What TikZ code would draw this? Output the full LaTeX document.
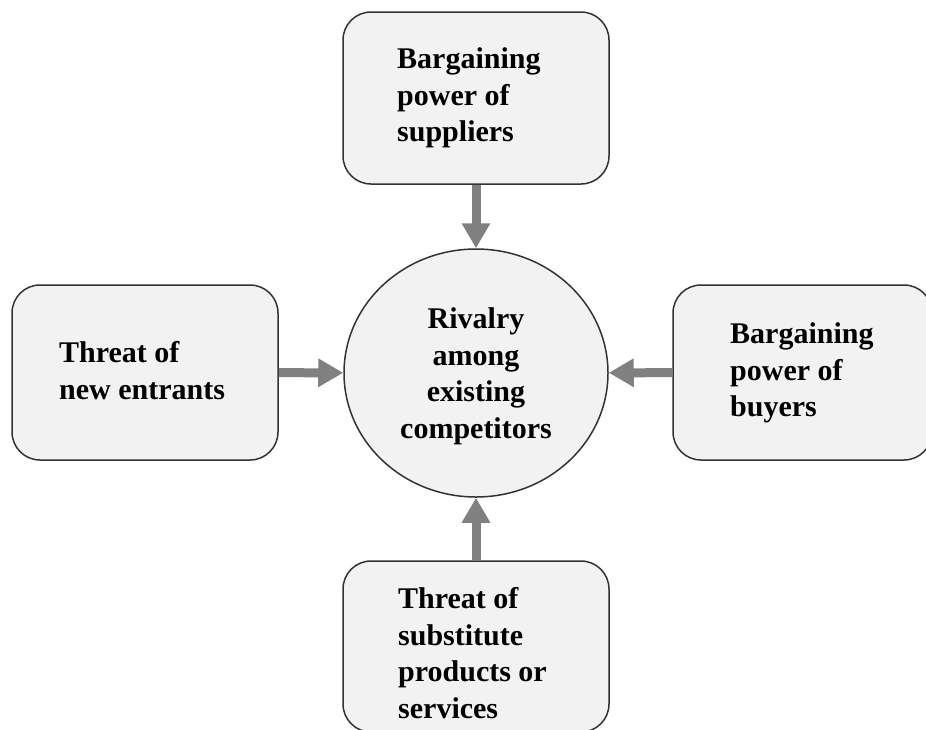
\documentclass[tikz,border=0pt]{standalone}
\usepackage{fontspec}
\setmainfont{Liberation Serif}
\usetikzlibrary{arrows.meta,shapes.geometric}
\definecolor{boxfill}{HTML}{F2F2F2}
\definecolor{boxline}{HTML}{333333}
\definecolor{arrowgray}{HTML}{808080}
\tikzset{
  forcebox/.style={draw=boxline, line width=1.5pt, fill=boxfill, rounded corners=28pt, inner sep=0pt},
  rivalry/.style={draw=boxline, line width=1.5pt, fill=boxfill, ellipse, inner sep=0pt},
  forcearrow/.style={draw=arrowgray, line width=9pt, -{Triangle[width=27pt,length=25pt]}},
  lbl/.style={font=\bfseries\fontsize{30}{36.5}\selectfont, align=left, inner sep=0pt, anchor=north west},
  clbl/.style={font=\bfseries\fontsize{30}{36.5}\selectfont, align=center, inner sep=0pt, anchor=north}
}
\begin{document}
\begin{tikzpicture}[x=1pt,y=-1pt]
\clip (0,0) rectangle (926,729);
\fill[white] (0,0) rectangle (926,729);
% shapes
\node[forcebox, minimum width=266pt, minimum height=172pt] (sup) at (476,98) {};
\node[forcebox, minimum width=266pt, minimum height=175pt] (ent) at (145,372.5) {};
\node[forcebox, minimum width=259pt, minimum height=175pt] (buy) at (802.5,372.5) {};
\node[forcebox, minimum width=266pt, minimum height=171pt] (sub) at (476,646.5) {};
\node[rivalry, minimum width=264pt, minimum height=248pt] (riv) at (476,373) {};
% texts
\node[lbl] (tsup) at (397,47.5) {Bargaining\\power of\\suppliers};
\node[lbl] (tent) at (59,341.5) {Threat of\\new entrants};
\node[lbl] (tbuy) at (730,322.5) {Bargaining\\power of\\buyers};
\node[lbl] (tsub) at (398,587.5) {Threat of\\substitute\\products or\\services};
\node[clbl] (triv) at (476,307.5) {Rivalry\\among\\existing\\competitors};
% arrows
\draw[forcearrow] (sup) -- (riv);
\draw[forcearrow] (ent) -- (riv);
\draw[forcearrow] (buy) -- (riv);
\draw[forcearrow] (sub) -- (riv);
\end{tikzpicture}
\end{document}
